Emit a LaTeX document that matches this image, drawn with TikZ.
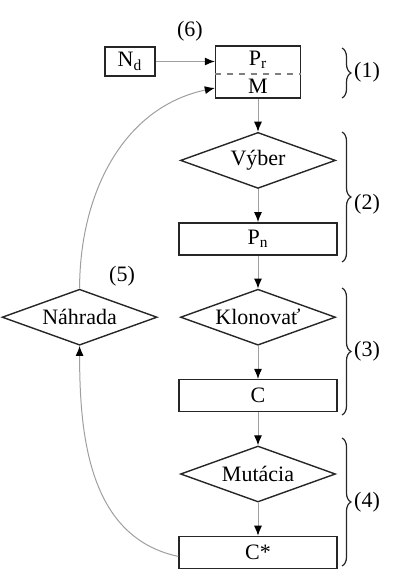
\documentclass[tikz,border=0pt]{standalone}
\usepackage{fontspec}
\setmainfont{Liberation Serif}
\usetikzlibrary{arrows.meta,positioning,shapes.geometric,decorations.pathreplacing}

\begin{document}
\begin{tikzpicture}[
  x=0.5pt, y=-0.5pt,
  font=\fontsize{11}{13}\selectfont,
  node distance=16.5pt and 11pt,
  box/.style={
    draw=black!85, line width=0.7pt,
    minimum width=79pt, minimum height=16pt, inner sep=0pt
  },
  decision/.style={
    draw=black!85, line width=0.7pt, diamond, aspect=2.8,
    minimum width=77.5pt, minimum height=28pt, inner sep=0pt
  },
  arr/.style={gray!75, line width=0.5pt, -{Latex[black,length=5pt,width=4pt]}},
  grp/.style={black!85, line width=0.6pt, decorate, decoration={brace,amplitude=4.5pt}}
]
\useasboundingbox (0,0) rectangle (400,580);

% Population with memory
\node[box, minimum width=42.5pt, minimum height=26pt] (pop) at (258,72) {};
\draw[dashed, gray, line width=0.6pt] ([yshift=-1pt]pop.west) -- ([yshift=-1pt]pop.east);
\node (pr) at ([yshift=6pt]pop.center) {P\textsubscript{r}};
\node (mem) at ([yshift=-7pt]pop.center) {M};

% New individuals
\node[box, minimum width=25pt, minimum height=14.5pt] (nd) at (130,61.5) {N\textsubscript{d}};

% Main loop
\node[decision, below=of pop] (vyber) {Výber};
\node[box, below=of vyber] (pn) {P\textsubscript{n}};
\node[decision, below=of pn] (klon) {Klonovať};
\node[box, below=of klon] (c) {C};
\node[decision, below=of c] (mut) {Mutácia};
\node[box, below=of mut] (cs) {C*};

% Replacement
\node[decision, left=of klon] (nah) {Náhrada};

% Arrows
\draw[arr] (nd.east) -- (nd.east -| pop.west);
\draw[arr] (pop) -- (vyber);
\draw[arr] (vyber) -- (pn);
\draw[arr] (pn) -- (klon);
\draw[arr] (klon) -- (c);
\draw[arr] (c) -- (mut);
\draw[arr] (mut) -- (cs);
\draw[arr] ([yshift=-2pt]cs.west) to[out=168, in=-90] (nah.south);
\draw[arr] (nah.north) to[out=90, in=192] ([yshift=-8pt]pop.west);

% Braces
\draw[grp] (342,48) -- (342,98);
\draw[grp] (342,132) -- (342,262);
\draw[grp] (342,288) -- (342,415);
\draw[grp] (342,438) -- (342,566);

% Labels
\node (l1) at (367,72) {(1)};
\node (l2) at (367,204) {(2)};
\node (l3) at (367,351) {(3)};
\node (l4) at (367,502) {(4)};
\node (l5) at (122,276) {(5)};
\node (l6) at (190,31) {(6)};

\end{tikzpicture}
\end{document}
